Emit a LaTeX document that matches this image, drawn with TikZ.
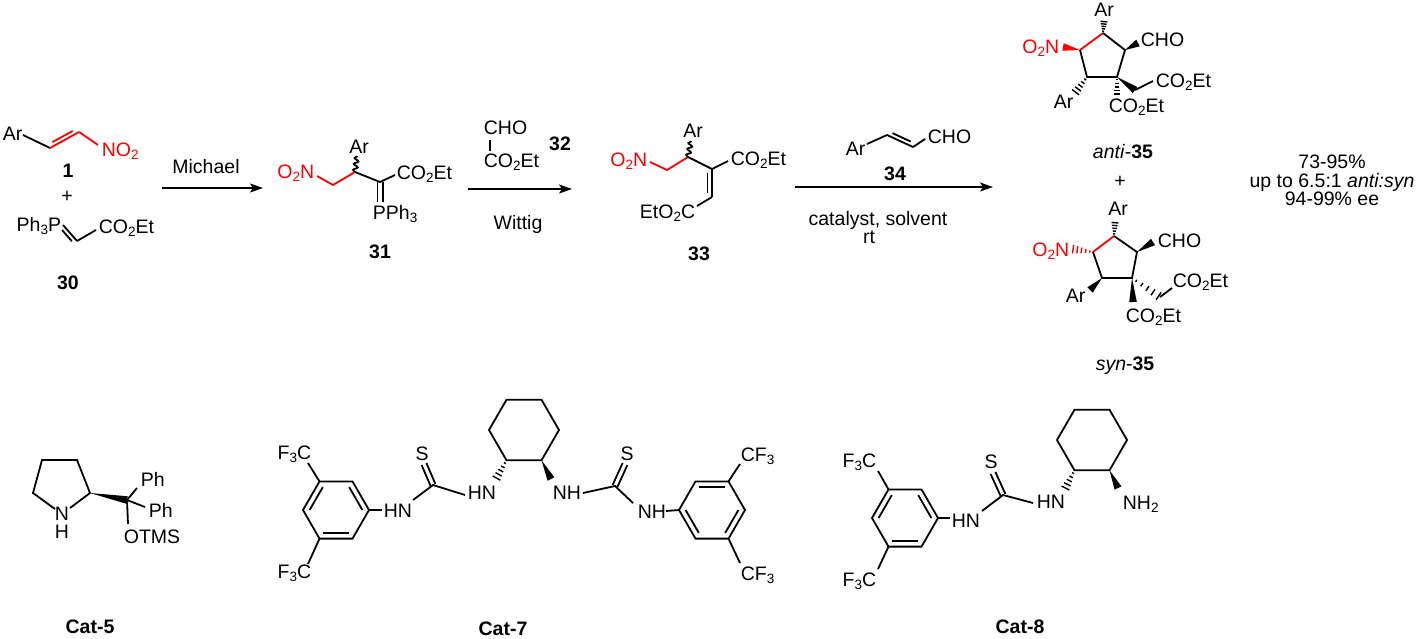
\documentclass[tikz,border=0pt]{standalone}
\usepackage{fontspec}
\setmainfont{Liberation Sans}
\usetikzlibrary{calc,arrows.meta,decorations.pathmorphing}
\newcommand\sub[1]{\raisebox{-0.32ex}{\fontsize{13.5}{14}\selectfont #1}}
% double bond: main line + shortened parallel line (offset #1)
\newcommand\dbl[3][4]{%
  \draw (#2) -- (#3);
  \draw ($(#2)!0.15!(#3)!#1pt!90:(#3)$) -- ($(#3)!0.15!(#2)!#1pt!-90:(#2)$);}
% centred double bond
\newcommand\dblc[3][2.6]{%
  \draw ($(#2)!#1pt!90:(#3)$) -- ($(#3)!#1pt!-90:(#2)$);
  \draw ($(#2)!#1pt!-90:(#3)$) -- ($(#3)!#1pt!90:(#2)$);}
% solid wedge, narrow at #2, wide at #3
\newcommand\wdg[3][3.8]{\fill (#2) -- ($(#3)!#1pt!90:(#2)$) -- ($(#3)!#1pt!-90:(#2)$) -- cycle;}
% hashed wedge
\newcommand\hsh[3][4]{%
  \foreach \t in {0.15,0.35,0.55,0.75,0.95}{%
    \pgfmathsetmacro\hw{\t*#1+0.6}
    \draw[line width=1.4pt] ($(#2)!\t!(#3)!\hw pt!90:(#3)$) -- ($(#2)!\t!(#3)!\hw pt!-90:(#3)$);}}
% aromatic inner line (centre, v1, v2)
\newcommand\inn[3]{\draw ($(#1)!0.8!(#2)$) -- ($(#1)!0.8!(#3)$);}
\tikzset{
  lbl/.style={inner sep=0pt,font=\fontsize{19.5}{23}\selectfont},
  bl/.style={inner sep=0pt,font=\fontsize{19.5}{23}\selectfont\bfseries},
  rxn/.style={line width=1.8pt,-{Stealth[length=13pt,width=9pt,inset=3pt]}},
  wavy/.style={decorate,decoration={snake,amplitude=2.2pt,segment length=6pt}}
}
\begin{document}
\begin{tikzpicture}[x=1pt,y=-1pt,line width=1.8pt]
\useasboundingbox (0,0) rectangle (1418,638);

% ---------- compound 1 ----------
\node[lbl,anchor=base west] (ar1) at (2,140.5) {Ar};
\node[lbl,anchor=base west,text=red] (no1) at (101,156) {NO\sub{2}};
\coordinate (c1a) at (23,135);
\coordinate (c1b) at (50,148);
\coordinate (c1c) at (79,132);
\coordinate (c1d) at (98,145);
\draw (c1a) -- (c1b);
\begin{scope}[red]
\dbl{c1b}{c1c}
\draw (c1c) -- (c1d);
\end{scope}
\node[bl,anchor=base] (l1) at (68,177) {1};
\node[lbl] (plus1) at (67,197) {+};

% ---------- compound 30 ----------
\node[lbl,anchor=base east] (pph30) at (62,231) {Ph\sub{3}P};
\coordinate (c30a) at (63,225);
\coordinate (c30b) at (77,241);
\coordinate (c30c) at (96,230);
\dbl[-4]{c30a}{c30b}
\draw (c30b) -- (c30c);
\node[lbl,anchor=base west] (co30) at (98,233.5) {CO\sub{2}Et};
\node[bl,anchor=base] (l30) at (68,289) {30};

% ---------- arrow 1 ----------
\coordinate (ar1s) at (162,188);
\coordinate (ar1e) at (263,188);
\draw[rxn] (ar1s) -- (ar1e);
\node[lbl,anchor=base] (mich) at (206,173) {Michael};

% ---------- compound 31 ----------
\node[lbl,anchor=base east,text=red] (o31) at (315,178) {O\sub{2}N};
\coordinate (c31n) at (317,176);
\coordinate (c31a) at (333,185);
\coordinate (c31b) at (355,172);
\coordinate (c31w) at (357,156);
\coordinate (c31c) at (380,182);
\coordinate (c31d) at (395,175);
\coordinate (c31p) at (380,202);
\draw[red] (c31n) -- (c31a) -- (c31b);
\draw[wavy] (c31b) -- (c31w);
\node[lbl,anchor=base] (ar31) at (359,153) {Ar};
\draw (c31b) -- (c31c) -- (c31d);
\node[lbl,anchor=base west] (co31) at (396,179.5) {CO\sub{2}Et};
\dblc{c31c}{c31p}
\node[lbl,anchor=base west] (pph31) at (372,219) {PPh\sub{3}};
\node[bl,anchor=base] (l31) at (380,258) {31};

% ---------- reagent 32 / arrow 2 ----------
\node[lbl,anchor=base west] (cho32) at (483,134.5) {CHO};
\coordinate (c32a) at (490,140);
\coordinate (c32b) at (490,151);
\draw (c32a) -- (c32b);
\node[lbl,anchor=base west] (co32) at (483,167) {CO\sub{2}Et};
\node[bl,anchor=base] (l32) at (560,150.5) {32};
\coordinate (ar2s) at (468,189);
\coordinate (ar2e) at (572,189);
\draw[rxn] (ar2s) -- (ar2e);
\node[lbl,anchor=base] (witt) at (518,229.5) {Wittig};

% ---------- compound 33 ----------
\node[lbl,anchor=base east,text=red] (o33) at (648,166) {O\sub{2}N};
\coordinate (c33n) at (650,162);
\coordinate (c33a) at (667,170);
\coordinate (c33b) at (688,157);
\coordinate (c33w) at (691,141);
\coordinate (c33c) at (712,169);
\coordinate (c33d) at (728,161);
\coordinate (c33e) at (712,197);
\coordinate (c33f) at (697,206);
\draw[red] (c33n) -- (c33a) -- (c33b);
\draw[wavy] (c33b) -- (c33w);
\node[lbl,anchor=base] (ar33) at (693,137) {Ar};
\draw (c33b) -- (c33c) -- (c33d);
\node[lbl,anchor=base west] (co33) at (730,165.5) {CO\sub{2}Et};
\dbl[-4.5]{c33c}{c33e}
\draw (c33e) -- (c33f);
\node[lbl,anchor=base east] (eto33) at (696,218) {EtO\sub{2}C};
\node[bl,anchor=base] (l33) at (699,260) {33};

% ---------- reagent 34 / arrow 3 ----------
\node[lbl,anchor=base west] (ar34) at (845,155.5) {Ar};
\coordinate (c34a) at (867,144);
\coordinate (c34b) at (887,135);
\coordinate (c34c) at (913,147);
\coordinate (c34d) at (925,139);
\draw (c34a) -- (c34b);
\dbl{c34b}{c34c}
\draw (c34c) -- (c34d);
\node[lbl,anchor=base west] (cho34) at (927,143.5) {CHO};
\node[bl,anchor=base] (l34) at (895,180) {34};
\coordinate (ar3s) at (795,187);
\coordinate (ar3e) at (993,187);
\draw[rxn] (ar3s) -- (ar3e);
\node[lbl,anchor=base] (cond1) at (878,225) {catalyst, solvent};
\node[lbl,anchor=base] (cond2) at (869,243) {rt};

% ---------- anti-35 ----------
\coordinate (p1) at (1103,33);
\coordinate (p2) at (1125,50);
\coordinate (p3) at (1117,77);
\coordinate (p4) at (1087,77);
\coordinate (p5) at (1080,50);
\draw[red] (p5) -- (p1);
\draw (p1) -- (p2) -- (p3) -- (p4) -- (p5);
\node[lbl,anchor=base] (arp1) at (1104,16.5) {Ar};
\coordinate (p1x) at (1104,21);
\hsh[3]{p1}{p1x}
\node[lbl,anchor=base east,text=red] (op) at (1060,53) {O\sub{2}N};
\coordinate (p5x) at (1063,47);
\begin{scope}[red]\wdg{p5}{p5x}\end{scope}
\coordinate (p2x) at (1138,43);
\wdg{p2}{p2x}
\node[lbl,anchor=base west] (chop) at (1140,46) {CHO};
\coordinate (p3x) at (1135,90);
\coordinate (p3y) at (1153,81);
\wdg{p3}{p3x}
\draw (p3x) -- (p3y);
\node[lbl,anchor=base west] (cop1) at (1155,87) {CO\sub{2}Et};
\coordinate (p3z) at (1117,95);
\hsh[3]{p3}{p3z}
\node[lbl,anchor=base west] (cop2) at (1108,112) {CO\sub{2}Et};
\coordinate (p4x) at (1075,93);
\hsh{p4}{p4x}
\node[lbl,anchor=base west] (arp2) at (1053,108) {Ar};
\node[lbl,anchor=base] (lanti) at (1123,158) {\textit{anti}-\textbf{35}};
\node[lbl] (plus2) at (1120,182) {+};

% ---------- yields ----------
\node[lbl,anchor=base] (y1) at (1332,168) {73-95\%};
\node[lbl,anchor=base] (y2) at (1332,187) {up to 6.5:1 \textit{anti:syn}};
\node[lbl,anchor=base] (y3) at (1332,205) {94-99\% ee};

% ---------- syn-35 ----------
\coordinate (q1) at (1114,236);
\coordinate (q2) at (1137,252);
\coordinate (q3) at (1132,278);
\coordinate (q4) at (1102,278);
\coordinate (q5) at (1093,252);
\draw[red] (q5) -- (q1);
\draw (q1) -- (q2) -- (q3) -- (q4) -- (q5);
\node[lbl,anchor=base] (arq1) at (1118,215) {Ar};
\coordinate (q1x) at (1115,222);
\hsh[3]{q1}{q1x}
\node[lbl,anchor=base east,text=red] (oq) at (1070,256) {O\sub{2}N};
\coordinate (q5x) at (1072,249);
\begin{scope}[red]\hsh{q5}{q5x}\end{scope}
\coordinate (q2x) at (1153,242);
\wdg{q2}{q2x}
\node[lbl,anchor=base west] (choq) at (1157,247) {CHO};
\coordinate (q3x) at (1160,297);
\coordinate (q3y) at (1172,288);
\hsh{q3}{q3x}
\draw (q3x) -- (q3y);
\node[lbl,anchor=base west] (coq1) at (1172,287) {CO\sub{2}Et};
\coordinate (q3z) at (1133,302);
\wdg{q3}{q3z}
\node[lbl,anchor=base west] (coq2) at (1125,322) {CO\sub{2}Et};
\coordinate (q4x) at (1090,290);
\wdg{q4}{q4x}
\node[lbl,anchor=base west] (arq2) at (1065,302) {Ar};
\node[lbl,anchor=base] (lsyn) at (1125,370) {\textit{syn}-\textbf{35}};

% ---------- Cat-5 ----------
\coordinate (r1) at (42,460);
\coordinate (r2) at (77,460);
\coordinate (r3) at (90,493);
\coordinate (rn1) at (55,509);
\coordinate (rn2) at (70,508);
\coordinate (r5) at (33,493);
\draw (rn1) -- (r5) -- (r1) -- (r2) -- (r3) -- (rn2);
\node[lbl,anchor=base] (n5) at (62,520) {N};
\node[lbl,anchor=base] (h5) at (62,538) {H};
\coordinate (rq) at (127,500);
\wdg{r3}{rq}
\coordinate (rph1) at (137,488);
\coordinate (rph2) at (145,507);
\coordinate (rot) at (128,524);
\draw (rq) -- (rph1);
\draw (rq) -- (rph2);
\draw (rq) -- (rot);
\node[lbl,anchor=base west] (ph1) at (140,486) {Ph};
\node[lbl,anchor=base west] (ph2) at (148,517) {Ph};
\node[lbl,anchor=base west] (otms) at (123,543) {OTMS};
\node[bl,anchor=base] (lc5) at (90,633) {Cat-5};

% ---------- Cat-7 ----------
\coordinate (A0) at (336,510);
\coordinate (A1) at (369,510);
\coordinate (A2) at (352.5,481.4);
\coordinate (A3) at (319.5,481.4);
\coordinate (A4) at (303,510);
\coordinate (A5) at (319.5,538.6);
\coordinate (A6) at (352.5,538.6);
\draw (A1) -- (A2) -- (A3) -- (A4) -- (A5) -- (A6) -- cycle;
\inn{A0}{A3}{A4}
\inn{A0}{A1}{A2}
\inn{A0}{A5}{A6}
\node[lbl,anchor=base east] (f7a) at (312,459) {F\sub{3}C};
\node[lbl,anchor=base east] (f7b) at (312,578) {F\sub{3}C};
\coordinate (f7at) at (308,463);
\coordinate (f7bt) at (308,564);
\draw (A3) -- (f7at);
\draw (A5) -- (f7bt);
\node[lbl,anchor=base west] (hn7a) at (383,517) {HN};
\coordinate (hn7al) at (382,510);
\draw (A1) -- (hn7al);
\coordinate (t7a) at (413,500);
\coordinate (t7c) at (433,485);
\coordinate (t7s) at (424,464);
\coordinate (t7b) at (465,495);
\draw (t7a) -- (t7c) -- (t7b);
\dblc{t7c}{t7s}
\node[lbl,anchor=base] (s7a) at (422,460) {S};
\node[lbl,anchor=base west] (hn7b) at (467,499) {HN};
\coordinate (H0) at (524,430);
\coordinate (H1) at (559,430);
\coordinate (H2) at (541.5,399.7);
\coordinate (H3) at (506.5,399.7);
\coordinate (H4) at (489,430);
\coordinate (H5) at (506.5,460.3);
\coordinate (H6) at (541.5,460.3);
\draw (H1) -- (H2) -- (H3) -- (H4) -- (H5) -- (H6) -- cycle;
\coordinate (H5x) at (496,479);
\coordinate (H6x) at (551,479);
\hsh{H5}{H5x}
\wdg{H6}{H6x}
\node[lbl,anchor=base west] (nh7a) at (552,499) {NH};
\coordinate (u7a) at (583,493);
\coordinate (u7c) at (615,486);
\coordinate (u7s) at (625,464);
\coordinate (u7b) at (633,503);
\draw (u7a) -- (u7c) -- (u7b);
\dblc{u7c}{u7s}
\node[lbl,anchor=base] (s7b) at (627,460) {S};
\node[lbl,anchor=base west] (nh7b) at (637,518) {NH};
\coordinate (nh7br) at (666,511);
\coordinate (B0) at (712,510);
\coordinate (B1) at (679,510);
\coordinate (B2) at (695.5,481.4);
\coordinate (B3) at (728.5,481.4);
\coordinate (B4) at (745,510);
\coordinate (B5) at (728.5,538.6);
\coordinate (B6) at (695.5,538.6);
\draw (nh7br) -- (B1);
\draw (B1) -- (B2) -- (B3) -- (B4) -- (B5) -- (B6) -- cycle;
\inn{B0}{B2}{B3}
\inn{B0}{B4}{B5}
\inn{B0}{B6}{B1}
\coordinate (cf7at) at (740,464);
\coordinate (cf7bt) at (740,563);
\draw (B3) -- (cf7at);
\draw (B5) -- (cf7bt);
\node[lbl,anchor=base west] (cf7a) at (740,461) {CF\sub{3}};
\node[lbl,anchor=base west] (cf7b) at (740,580) {CF\sub{3}};
\node[bl,anchor=base] (lc7) at (503,635) {Cat-7};

% ---------- Cat-8 ----------
\coordinate (C0) at (905,518);
\coordinate (C1) at (938,518);
\coordinate (C2) at (921.5,489.4);
\coordinate (C3) at (888.5,489.4);
\coordinate (C4) at (872,518);
\coordinate (C5) at (888.5,546.6);
\coordinate (C6) at (921.5,546.6);
\draw (C1) -- (C2) -- (C3) -- (C4) -- (C5) -- (C6) -- cycle;
\inn{C0}{C3}{C4}
\inn{C0}{C1}{C2}
\inn{C0}{C5}{C6}
\node[lbl,anchor=base east] (f8a) at (877,467) {F\sub{3}C};
\node[lbl,anchor=base east] (f8b) at (877,586) {F\sub{3}C};
\coordinate (f8at) at (878,471);
\coordinate (f8bt) at (878,569);
\draw (C3) -- (f8at);
\draw (C5) -- (f8bt);
\node[lbl,anchor=base west] (hn8a) at (951,527) {HN};
\coordinate (hn8al) at (950,518);
\draw (C1) -- (hn8al);
\coordinate (t8a) at (982,511);
\coordinate (t8c) at (1003,495);
\coordinate (t8s) at (993,473);
\coordinate (t8b) at (1033,503);
\draw (t8a) -- (t8c) -- (t8b);
\dblc{t8c}{t8s}
\node[lbl,anchor=base] (s8) at (991,468) {S};
\node[lbl,anchor=base west] (hn8b) at (1036,508) {HN};
\coordinate (K0) at (1092,440);
\coordinate (K1) at (1127,440);
\coordinate (K2) at (1109.5,409.7);
\coordinate (K3) at (1074.5,409.7);
\coordinate (K4) at (1057,440);
\coordinate (K5) at (1074.5,470.3);
\coordinate (K6) at (1109.5,470.3);
\draw (K1) -- (K2) -- (K3) -- (K4) -- (K5) -- (K6) -- cycle;
\coordinate (K5x) at (1065,489);
\coordinate (K6x) at (1118,488);
\hsh{K5}{K5x}
\wdg{K6}{K6x}
\node[lbl,anchor=base west] (nh8) at (1122,509) {NH\sub{2}};
\node[bl,anchor=base] (lc8) at (1020,633) {Cat-8};
\end{tikzpicture}
\end{document}
